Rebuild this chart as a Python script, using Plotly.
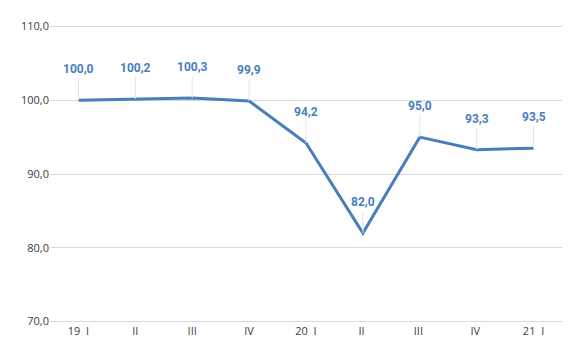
import plotly.graph_objects as go

categories = ["19  I", "II", "III", "IV", "20  I", "II ", "III ", "IV ", "21  I"]
values = [100.0, 100.2, 100.3, 99.9, 94.2, 82.0, 95.0, 93.3, 93.5]
y_ticks = [70, 80, 90, 100, 110]

blue = "#4a7ebb"

fig = go.Figure()
fig.add_trace(go.Scatter(
    x=categories, y=values, mode="lines",
    line=dict(color=blue, width=3), hoverinfo="skip", showlegend=False,
))

for c, v in zip(categories, values):
    fig.add_annotation(
        x=c, y=v, text=f"{v:.1f}".replace(".", ","),
        showarrow=True, arrowhead=0, arrowwidth=1, arrowcolor="#e3e3e3",
        ax=0, ay=-22, yanchor="bottom",
        font=dict(family="Roboto", size=12, color=blue, weight="bold"),
    )

fig.update_layout(
    width=564, height=342,
    margin=dict(l=42, r=10, t=15, b=27),
    paper_bgcolor="white", plot_bgcolor="white",
    separators=",.",
    xaxis=dict(
        type="category", range=[-0.5, 8.5], showgrid=False, showline=False, ticks="",
        tickfont=dict(family="Open Sans", size=11, color="#404040"),
    ),
    yaxis=dict(
        range=[69.8, 110.2], tickvals=y_ticks, tickformat=".1f",
        showgrid=True, gridcolor="#d9d9d9", gridwidth=1, zeroline=False,
        showline=False, ticks="", ticksuffix="  ",
        tickfont=dict(family="Open Sans", size=11, color="#404040"),
    ),
)

fig.write_html("out.html")
